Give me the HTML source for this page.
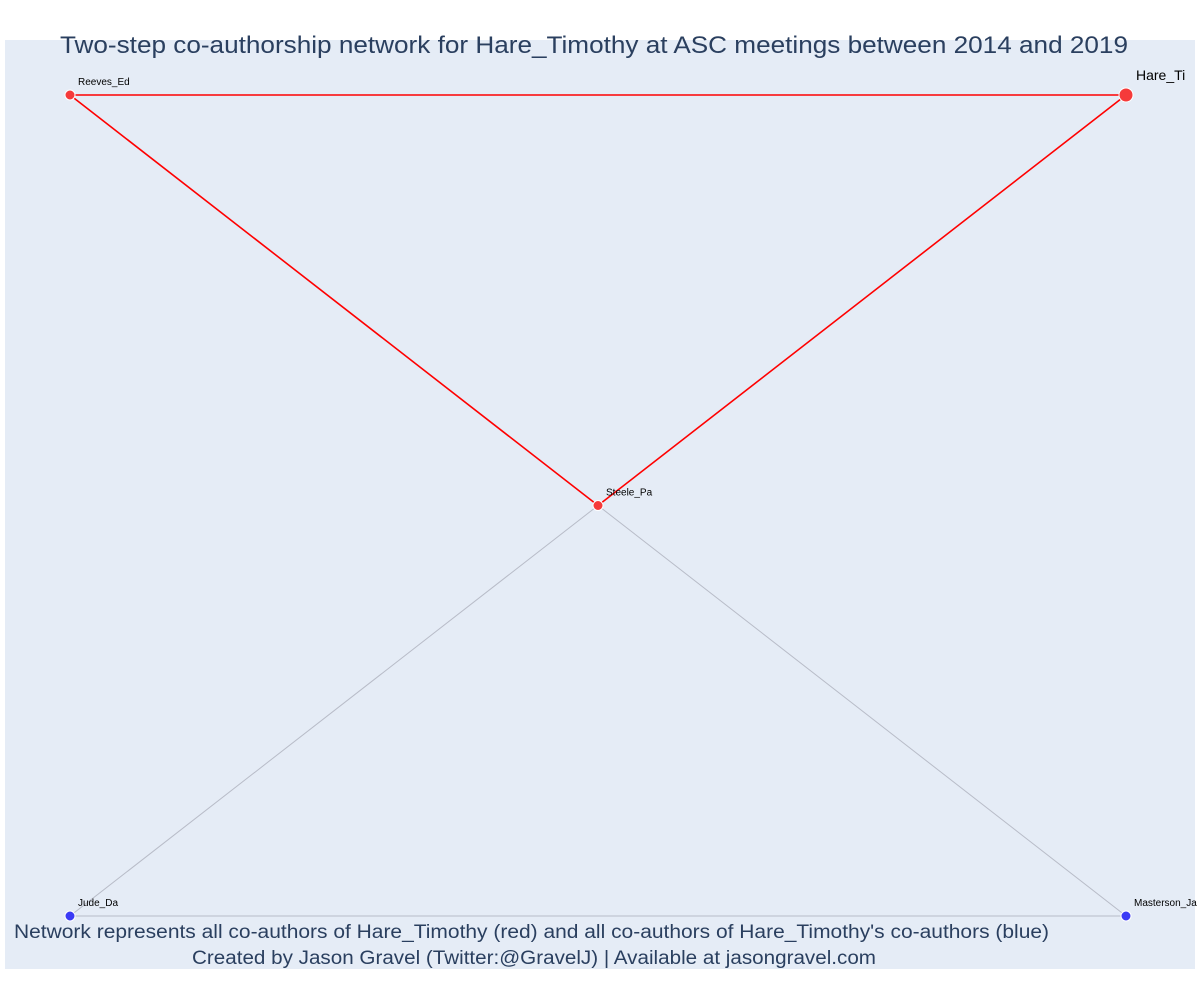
<!DOCTYPE html>
<html><head><meta charset="utf-8"><style>
body{margin:0;background:#fff;}
svg{display:block;font-family:"Liberation Sans",sans-serif;}
</style></head><body>
<svg id="chart" width="1200" height="1000">
<rect x="5" y="40" width="1190" height="929" fill="#e5ecf6"/>
<g id="edges"></g><g id="nodes"></g>
<text x="60" y="53" textLength="1068" lengthAdjust="spacingAndGlyphs" font-size="24" fill="#2a3f5f">Two-step co-authorship network for Hare_Timothy at ASC meetings between 2014 and 2019</text>
<text x="14" y="938" textLength="1035" lengthAdjust="spacingAndGlyphs" font-size="19" fill="#2a3f5f">Network represents all co-authors of Hare_Timothy (red) and all co-authors of Hare_Timothy's co-authors (blue)</text>
<text x="192" y="964" textLength="684" lengthAdjust="spacingAndGlyphs" font-size="19" fill="#2a3f5f">Created by Jason Gravel (Twitter:@GravelJ) | Available at jasongravel.com</text>
</svg>
<script>
const names=["Reeves_Ed","Hare_Ti","Steele_Pa","Jude_Da","Masterson_Ja"];
const xs=[0,1,0.5,0,1];
const ys=[1,1,0.5,0,0];
const groups=["red","red","red","blue","blue"];
const edgeFrom=[0,1,0,2,2,3];
const edgeTo=[1,2,2,3,4,4];
const edgeColor=["red","red","red","grey","grey","grey"];
const sx=v=>70+v*(1126-70), sy=v=>916-v*(916-95);
const NS="http://www.w3.org/2000/svg";
const eg=document.getElementById('edges'), ng=document.getElementById('nodes');
edgeFrom.forEach((f,i)=>{const t=edgeTo[i];const l=document.createElementNS(NS,'line');
l.setAttribute('x1',sx(xs[f]));l.setAttribute('y1',sy(ys[f]));l.setAttribute('x2',sx(xs[t]));l.setAttribute('y2',sy(ys[t]));
l.setAttribute('stroke',edgeColor[i]==='red'?'#ff0000':'#b8bcc8');l.setAttribute('stroke-width',edgeColor[i]==='red'?1.6:1);


eg.appendChild(l);});
names.forEach((n,i)=>{const big=n==='Hare_Ti';const c=document.createElementNS(NS,'circle');
c.setAttribute('cx',sx(xs[i]));c.setAttribute('cy',sy(ys[i]));c.setAttribute('r',big?7:5);
c.setAttribute('fill',groups[i]==='red'?'#f53a3a':'#3b3bf5');c.setAttribute('stroke','#fff');c.setAttribute('stroke-width',1);


ng.appendChild(c);
const t=document.createElementNS(NS,'text');t.textContent=n;
t.setAttribute('x',sx(xs[i])+(big?10:8));t.setAttribute('y',sy(ys[i])-(big?15:10));
t.setAttribute('font-size',big?14:10);t.setAttribute('fill','#000');


ng.appendChild(t);});
</script>
</body></html>
